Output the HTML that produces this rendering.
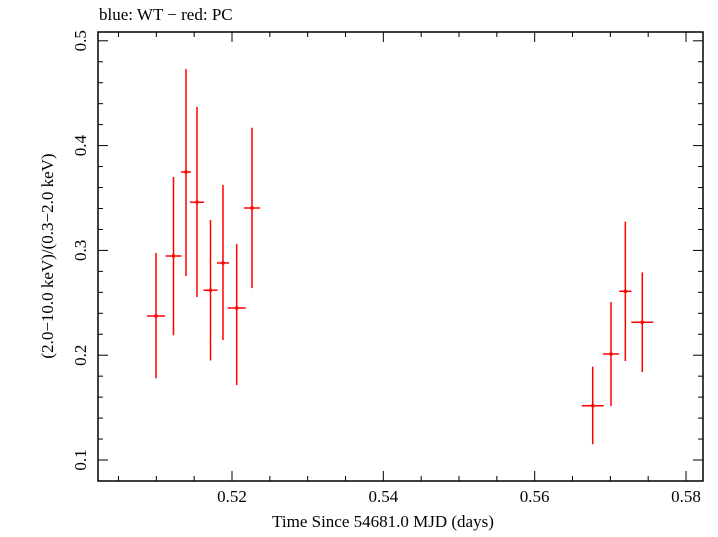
<!DOCTYPE html>
<html><head><meta charset="utf-8"><style>
body{margin:0;background:#fff}
svg text{font-family:"Liberation Serif",serif;fill:#000}
</style></head><body>
<svg id="c" width="718" height="532" xmlns="http://www.w3.org/2000/svg">
<text x="99" y="20" font-size="17">blue: WT − red: PC</text>
<text x="383" y="527" font-size="17" text-anchor="middle">Time Since 54681.0 MJD (days)</text>
<text transform="translate(53,256) rotate(-90)" font-size="17" text-anchor="middle">(2.0−10.0 keV)/(0.3−2.0 keV)</text>
<g id="ax"></g><g id="pts"></g>
</svg>
<script>
const xs=[0.50996,0.51227,0.51392,0.51537,0.51716,0.51881,0.52062,0.52264,0.56767,0.57009,0.57198,0.57422];
const xerr=[0.0012,0.00106,0.00066,0.00093,0.00093,0.0008,0.0012,0.00106,0.00145,0.00106,0.0008,0.00145];
const ys=[0.2374,0.2947,0.3748,0.346,0.262,0.288,0.245,0.3405,0.1518,0.2012,0.261,0.2314];
const yhi=[0.2975,0.370,0.473,0.437,0.329,0.3625,0.306,0.417,0.189,0.2508,0.3274,0.279];
const ylo=[0.178,0.219,0.2756,0.2555,0.195,0.2145,0.1716,0.264,0.115,0.1515,0.1945,0.184];
const xticks=[0.52,0.54,0.56,0.58];
const yticks=[0.1,0.2,0.3,0.4,0.5];
const L=98,R=703,T=32,B=481;
const X=v=>232+(v-0.52)*7567;
const Y=v=>460-(v-0.1)*1048;
const NS="http://www.w3.org/2000/svg";
function mk(p,t,a){const e=document.createElementNS(NS,t);for(const k in a)e.setAttribute(k,a[k]);p.appendChild(e);return e;}
const ax=document.getElementById('ax'),pts=document.getElementById('pts');
const fr=mk(ax,'rect',{x:L,y:T,width:R-L,height:B-T,fill:'none',stroke:'#000','stroke-width':1.5});


for(let v=0.505;v<0.5801;v+=0.005){const px=X(v);if(px<L||px>R)continue;const maj=xticks.some(t=>Math.abs(t-v)<1e-6);const h=maj?10:5;
mk(ax,'line',{x1:px,x2:px,y1:B,y2:B-h,stroke:'#000','stroke-width':1});mk(ax,'line',{x1:px,x2:px,y1:T,y2:T+h,stroke:'#000','stroke-width':1});}
for(let v=0.08;v<0.5201;v+=0.02){const py=Y(v);if(py<T||py>B)continue;const maj=yticks.some(t=>Math.abs(t-v)<1e-6);const h=maj?10:5;
mk(ax,'line',{x1:L,x2:L+h,y1:py,y2:py,stroke:'#000','stroke-width':1});mk(ax,'line',{x1:R,x2:R-h,y1:py,y2:py,stroke:'#000','stroke-width':1});}
xticks.forEach(v=>{const t=mk(ax,'text',{x:X(v),y:B+21,'font-size':17,'text-anchor':'middle'});t.textContent=v.toFixed(2);

});
yticks.forEach(v=>{const t=mk(ax,'text',{transform:`translate(${L-12},${Y(v)}) rotate(-90)`,'font-size':17,'text-anchor':'middle'});t.textContent=v.toFixed(1);

});
xs.forEach((x,i)=>{const g=mk(pts,'g',{stroke:'#f00','stroke-width':1.5});


mk(g,'line',{x1:X(x-xerr[i]),x2:X(x+xerr[i]),y1:Y(ys[i]),y2:Y(ys[i])});
mk(g,'line',{x1:X(x),x2:X(x),y1:Y(yhi[i]),y2:Y(ylo[i])});
mk(g,'rect',{x:X(x)-1.5,y:Y(ys[i])-1.5,width:3,height:3,fill:'#f00',stroke:'none'});});
</script>
</body></html>
